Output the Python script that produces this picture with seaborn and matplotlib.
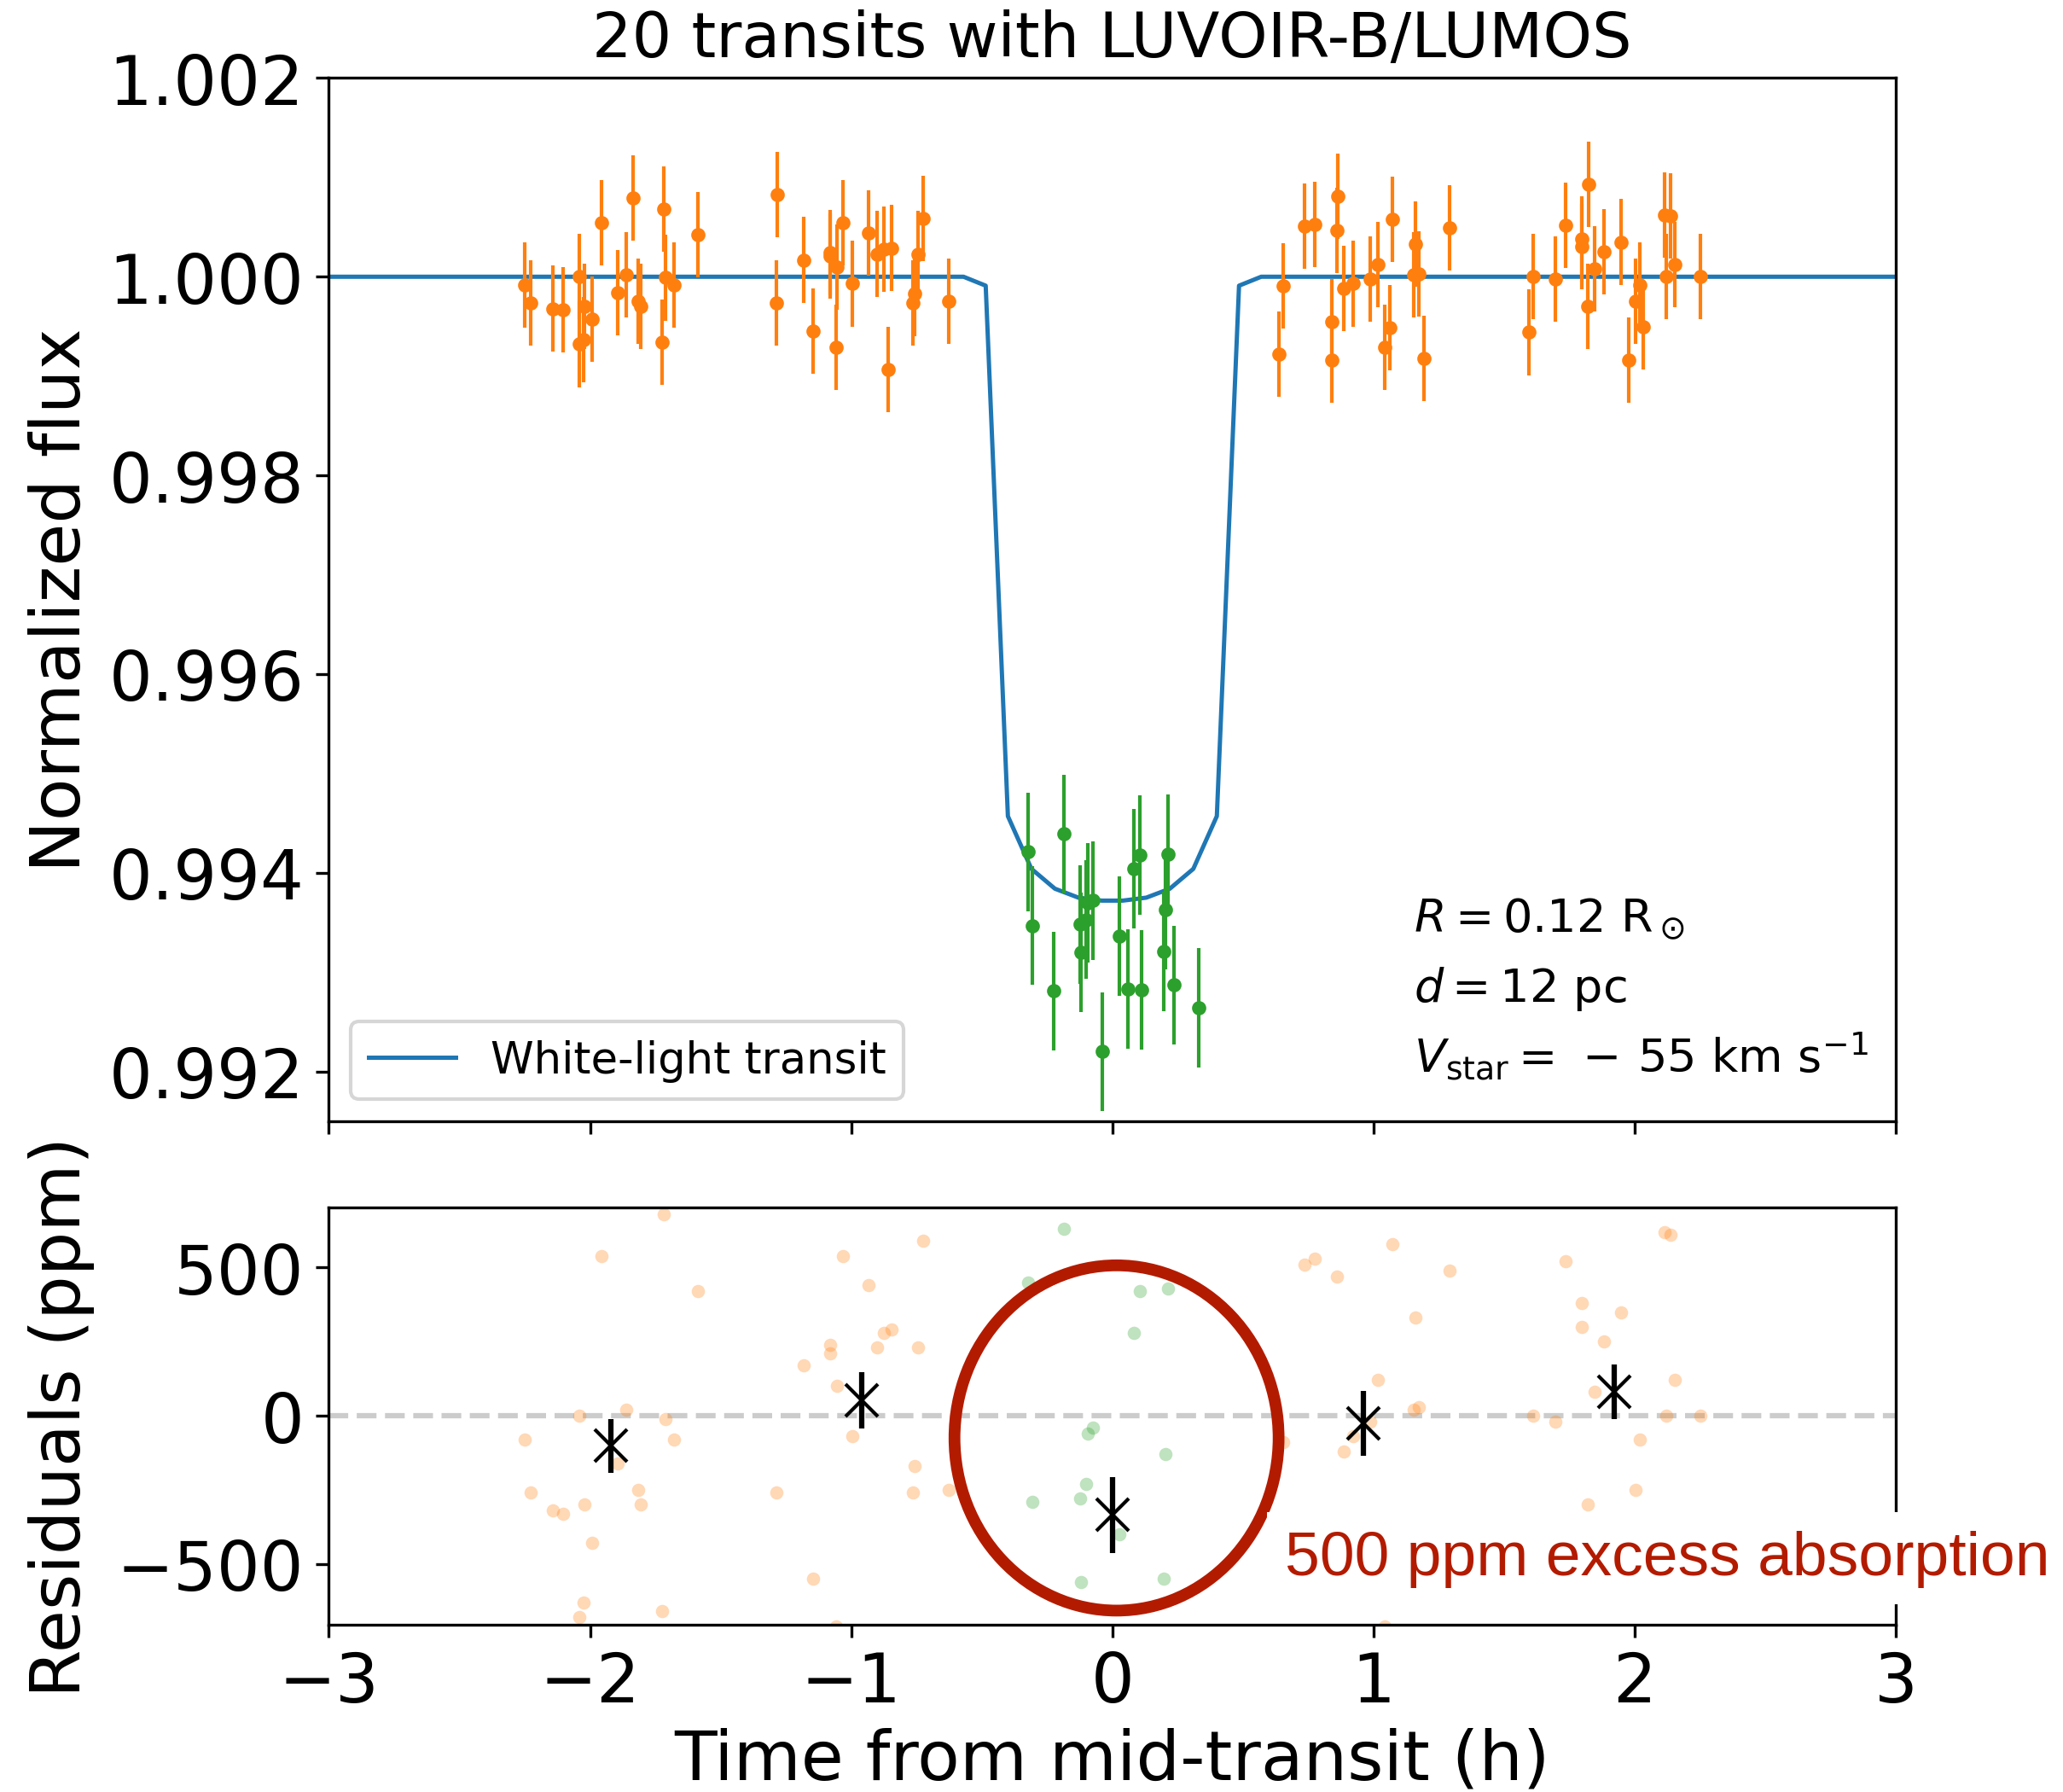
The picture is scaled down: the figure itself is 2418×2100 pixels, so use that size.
import numpy as np
import pandas as pd
import seaborn as sns
import matplotlib.pyplot as plt
from matplotlib.patches import Ellipse
from matplotlib.ticker import FormatStrFormatter

# === Data ===
# out-of-transit exposures (time in h, normalized flux)
oot_time = [-2.249, -2.228, -2.143, -2.104, -2.041, -2.041, -2.020, -2.024, -1.992, -1.957,
            -1.893, -1.861, -1.834, -1.817, -1.805, -1.724, -1.716, -1.710, -1.680, -1.588,
            -1.283, -1.285, -1.183, -1.145, -1.081, -1.081, -1.058, -1.055, -1.033, -0.996,
            -0.933, -0.902, -0.876, -0.858, -0.846, -0.745, -0.764, -0.756, -0.725, -0.628,
            0.638, 0.655, 0.736, 0.774, 0.839, 0.839, 0.862, 0.861, 0.886, 0.923,
            0.988, 1.018, 1.043, 1.061, 1.073, 1.161, 1.155, 1.174, 1.194, 1.291,
            1.596, 1.612, 1.695, 1.734, 1.799, 1.798, 1.821, 1.823, 1.847, 1.883,
            1.948, 1.978, 2.004, 2.020, 2.032, 2.115, 2.136, 2.122, 2.154, 2.251]
oot_flux = [0.99992, 0.99974, 0.99968, 0.99967, 1.00000, 0.99932, 0.99970, 0.99937, 0.99957, 1.00054,
            0.99984, 1.00002, 1.00079, 0.99975, 0.99970, 0.99934, 1.00068, 0.99999, 0.99992, 1.00042,
            1.00083, 0.99974, 1.00017, 0.99945, 1.00024, 1.00021, 0.99929, 1.00010, 1.00054, 0.99993,
            1.00044, 1.00023, 1.00028, 0.99907, 1.00029, 1.00023, 0.99974, 0.99983, 1.00059, 0.99975,
            0.99922, 0.99991, 1.00051, 1.00053, 0.99955, 0.99916, 1.00081, 1.00047, 0.99988, 0.99993,
            0.99998, 1.00012, 0.99929, 0.99949, 1.00058, 1.00033, 1.00002, 1.00003, 0.99918, 1.00049,
            0.99944, 1.00000, 0.99998, 1.00052, 1.00038, 1.00030, 0.99970, 1.00093, 1.00008, 1.00025,
            1.00035, 0.99916, 0.99975, 0.99992, 0.99950, 1.00062, 1.00061, 1.00000, 1.00012, 1.00000]
oot_err = 0.00043

# in-transit exposures
it_time = [-0.323, -0.307, -0.224, -0.185, -0.122, -0.121, -0.100, -0.095, -0.073, -0.037,
           0.027, 0.060, 0.081, 0.105, 0.113, 0.196, 0.202, 0.213, 0.235, 0.332]
it_flux = [0.99421, 0.99347, 0.99281, 0.99439, 0.99348, 0.99320, 0.99353, 0.99370, 0.99372, 0.99220,
           0.99336, 0.99283, 0.99404, 0.99418, 0.99282, 0.99321, 0.99363, 0.99419, 0.99287, 0.99264]
it_err = 0.0006
it_level = 0.99376  # model level in transit used for the residuals

# white-light transit model
model_time = [-3.0, -0.57, -0.485, -0.40, -0.31, -0.22, -0.13, -0.04,
              0.04, 0.13, 0.22, 0.31, 0.40, 0.485, 0.57, 3.0]
model_flux = [1.0, 1.0, 0.99991, 0.99457, 0.99404, 0.99384, 0.99375, 0.99372,
              0.99372, 0.99375, 0.99384, 0.99404, 0.99457, 0.99991, 1.0, 1.0]

# binned residuals (ppm)
bin_time = [-1.92, -0.96, 0.0, 0.96, 1.92]
bin_resid = [-101, 52, -334, -25, 81]
bin_err = [91, 95, 128, 110, 92]

pal = sns.color_palette("tab10")
c_model, c_oot, c_it = pal[0], pal[1], pal[2]
red = "#b31b00"

model_df = pd.DataFrame({"time": model_time, "flux": model_flux})
resid_oot = pd.DataFrame({"time": oot_time, "ppm": (np.array(oot_flux) - 1.0) * 1e6})
resid_it = pd.DataFrame({"time": it_time, "ppm": (np.array(it_flux) - it_level) * 1e6})

fig, (ax1, ax2) = plt.subplots(2, 1, sharex=True, figsize=(8.06, 7.0033),
                               gridspec_kw={"height_ratios": [2.5, 1]})
fig.subplots_adjust(left=0.1594, right=0.919, top=0.956, bottom=0.0935, hspace=0.1177)

# --- top panel ---
sns.lineplot(data=model_df, x="time", y="flux", ax=ax1, color=c_model, lw=1.2,
             sort=False, estimator=None, label="White-light transit", zorder=1)
ax1.errorbar(oot_time, oot_flux, yerr=oot_err, fmt=".", color=c_oot, elinewidth=1.0, zorder=3)
ax1.errorbar(it_time, it_flux, yerr=it_err, fmt=".", color=c_it, elinewidth=1.0, zorder=3)

ax1.set_xlim(-3, 3)
ax1.set_ylim(0.9915, 1.002)
ax1.set_yticks([0.992, 0.994, 0.996, 0.998, 1.000, 1.002])
ax1.yaxis.set_major_formatter(FormatStrFormatter("%.3f"))
ax1.set_xlabel("")
ax1.set_ylabel("Normalized flux", fontsize=19.5)
ax1.set_title("20 transits with LUVOIR-B/LUMOS", fontsize=17.6)
ax1.tick_params(labelsize=19.2)
ax1.legend(loc="lower left", fontsize=12.3)

info_lines = [r"$R = 0.12\ \mathrm{R}_\odot$", r"$d = 12$ pc",
              r"$V_{\rm star} = \,-\,55$ km s$^{-1}$"]
for txt, yy in zip(info_lines, [0.1818, 0.1153, 0.0483]):
    ax1.text(0.6925, yy, txt, transform=ax1.transAxes, fontsize=13, va="baseline", ha="left")

# --- bottom panel: residuals ---
ax2.axhline(0, color="k", alpha=0.2, ls="--", lw=1.5, zorder=0)
sns.scatterplot(data=resid_oot, x="time", y="ppm", ax=ax2, color=c_oot, alpha=0.3,
                s=14, linewidth=0, zorder=1)
sns.scatterplot(data=resid_it, x="time", y="ppm", ax=ax2, color=c_it, alpha=0.3,
                s=14, linewidth=0, zorder=1)
ax2.errorbar(bin_time, bin_resid, yerr=bin_err, fmt="x", color="k", ms=9, mew=1.0,
             elinewidth=1.5, zorder=4)

ax2.add_patch(Ellipse((0.016, -75), 1.241, 1165, fill=False, edgecolor=red, lw=3.3, zorder=5))
ax2.text(0.66, -535, "500 ppm excess absorption", color=red, fontsize=17.6,
         family="Liberation Sans", va="baseline", ha="left", zorder=10, clip_on=False,
         bbox=dict(facecolor="white", edgecolor="none", pad=5))

ax2.set_ylim(-704, 704)
ax2.set_yticks([-500, 0, 500])
ax2.set_xticks([-3, -2, -1, 0, 1, 2, 3])
ax2.set_xlabel("Time from mid-transit (h)", fontsize=19.5, labelpad=3)
ax2.set_ylabel("Residuals (ppm)", fontsize=19.5)
ax2.tick_params(labelsize=19.2)

fig.align_ylabels([ax1, ax2])
plt.savefig("out.png", dpi=300)
